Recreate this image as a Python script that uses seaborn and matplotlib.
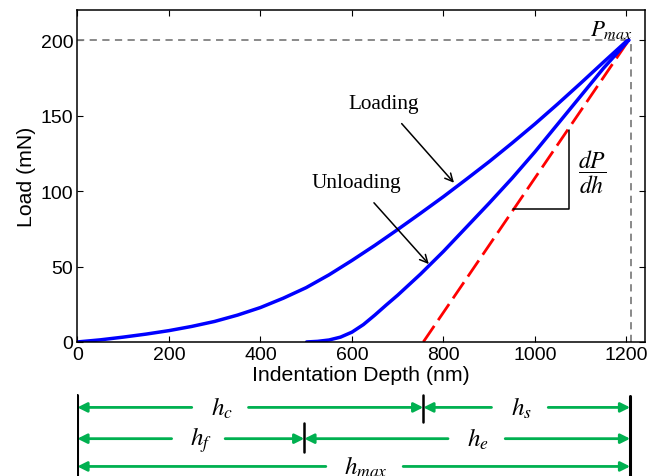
import numpy as np
import pandas as pd
import matplotlib
matplotlib.use("Agg")
import matplotlib.pyplot as plt
import seaborn as sns

# Courbes charge / décharge
depth_load = [0, 50, 100, 150, 200, 250, 300, 350, 400, 450, 500, 550, 600,
              650, 700, 750, 800, 850, 900, 950, 1000, 1050, 1100, 1150,
              1200, 1205]
load_load = [0, 1.4, 3.2, 5.2, 7.5, 10.3, 13.6, 17.8, 22.8, 29, 36, 44.5, 54,
             64, 74.5, 85.3, 96.3, 107.8, 119.5, 131.8, 144.5, 157.8, 171.5,
             185.5, 199.3, 200]

depth_unload = [501, 525, 550, 575, 600, 625, 650, 675, 700, 750, 800, 850,
                900, 950, 1000, 1050, 1100, 1150, 1205]
load_unload = [0, 0.4, 1.3, 3.2, 6.5, 11.5, 17.8, 24.5, 31, 45, 60, 76, 92,
               108.5, 126, 144.5, 163, 181.5, 200]

# Tangente (pente dP/dh)
depth_tangent = [756, 1205]
load_tangent = [0, 200]

p_max = 200
h_max = 1208
h_c = 756
h_f = 496

xticks = [0, 200, 400, 600, 800, 1000, 1200]
yticks = [0, 50, 100, 150, 200]

sns.set_style("ticks")
plt.rcParams["font.family"] = ["Liberation Sans", "DejaVu Sans"]
plt.rcParams["mathtext.fontset"] = "stix"
for k in ["text.color", "axes.labelcolor", "xtick.color", "ytick.color",
          "axes.edgecolor"]:
    plt.rcParams[k] = "black"

df_load = pd.DataFrame({"depth": depth_load, "load": load_load})
df_unload = pd.DataFrame({"depth": depth_unload, "load": load_unload})
df_tan = pd.DataFrame({"depth": depth_tangent, "load": load_tangent})

fig = plt.figure(figsize=(6.5, 4.77), dpi=100)
ax = fig.add_axes([0.119, 0.281, 0.873, 0.696])

# lignes de repère grises
ax.plot([0, 1210], [p_max, p_max], color="#808080", lw=1.3, ls=(0, (4, 3)))
ax.plot([1210, 1210], [0, p_max], color="#808080", lw=1.3, ls=(0, (4, 3)))

sns.lineplot(data=df_tan, x="depth", y="load", ax=ax, color="#ff0000",
             lw=2, sort=False, estimator=None)
ax.lines[-1].set_dashes((7, 2.5))
sns.lineplot(data=df_load, x="depth", y="load", ax=ax, color="#0000ff",
             lw=2.5, sort=False, estimator=None, solid_joinstyle="round")
sns.lineplot(data=df_unload, x="depth", y="load", ax=ax, color="#0000ff",
             lw=2.5, sort=False, estimator=None, solid_joinstyle="round")

# triangle de pente
ax.plot([953, 1075, 1075], [87.9, 87.9, 140.6], color="black", lw=1.1)
ax.text(1124, 113, r"$\dfrac{dP}{dh}$", fontsize=17, ha="center", va="center")
ax.text(1166, 208, r"$P_{max}$", fontsize=16.5, ha="center", va="center")

serif = ["Liberation Serif", "DejaVu Serif"]
ax.annotate("Loading", xy=(823, 105.5), xytext=(670, 158), fontsize=15.3,
            family=serif, ha="center", va="center",
            arrowprops=dict(arrowstyle="->", color="black", lw=1.1,
                            mutation_scale=14, shrinkA=7, shrinkB=0))
ax.annotate("Unloading", xy=(768, 51.6), xytext=(609, 105.5), fontsize=15.3,
            family=serif, ha="center", va="center",
            arrowprops=dict(arrowstyle="->", color="black", lw=1.1,
                            mutation_scale=14, shrinkA=7, shrinkB=0))

ax.set_xlim(0, 1240)
ax.set_ylim(0, 220)
ax.set_xticks(xticks)
ax.set_yticks(yticks)
ax.tick_params(direction="in", top=True, right=True, length=4, width=0.8,
               labelsize=14, pad=3)
for s in ax.spines.values():
    s.set_linewidth(1.1)
ax.set_xlabel("Indentation Depth (nm)", fontsize=15.3, labelpad=1)
ax.set_ylabel("Load (mN)", fontsize=15.3, labelpad=3)

# schéma des profondeurs sous l'axe
bx = fig.add_axes([0.119, 0.0, 0.873, 0.182])
bx.set_xlim(0, 1240)
bx.set_ylim(0, 1)
bx.axis("off")

green = "#00b050"
rows = [0.79, 0.43, 0.11]

def double_arrow(x0, x1, g0, g1, xl, y, label):
    for start, end in [(g0, x0), (g1, x1)]:
        bx.annotate("", xy=(end, y), xytext=(start, y),
                    arrowprops=dict(arrowstyle="-|>", color=green, lw=2,
                                    mutation_scale=14, shrinkA=0, shrinkB=0))
    bx.text(xl, y, label, fontsize=18, ha="center", va="center")

double_arrow(0, h_c, 250, 374, 317, rows[0], r"$h_c$")
double_arrow(h_c, h_max, 905, 1029, 971, rows[0], r"$h_s$")
double_arrow(0, h_f, 206, 323, 270, rows[1], r"$h_f$")
double_arrow(h_f, h_max, 810, 935, 876, rows[1], r"$h_e$")
double_arrow(0, h_max, 543, 712, 630, rows[2], r"$h_{max}$")

bx.plot([0, 0], [0, 0.93], color="black", lw=2.2)
bx.plot([h_max, h_max], [0, 0.92], color="black", lw=2.2)
bx.plot([h_c, h_c], [0.62, 0.93], color="black", lw=1.8)
bx.plot([h_f, h_f], [0.28, 0.61], color="black", lw=1.8)

fig.savefig("out.png", dpi=100)
